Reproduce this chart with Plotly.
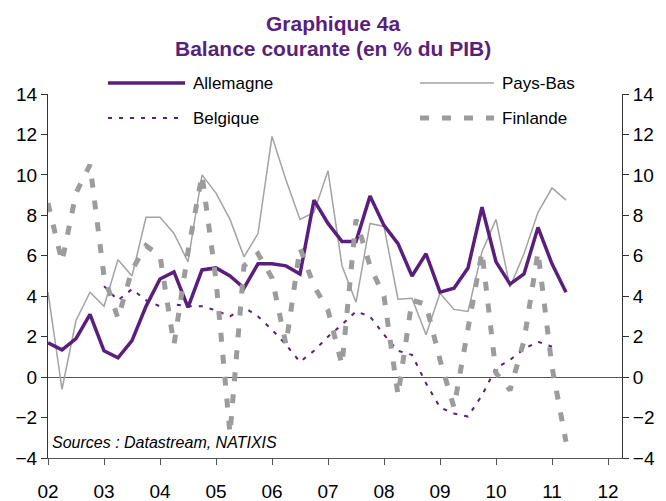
import plotly.graph_objects as go

# quarterly dates (2002Q1 = 2002.0)
quarters = [2002 + 0.25 * i for i in range(38)]
quarters_be = quarters[4:37]  # Belgique : 2003Q1 - 2011Q1

allemagne = [1.7, 1.35, 1.9, 3.1,
             1.3, 0.95, 1.8, 3.5,
             4.85, 5.2, 3.45, 5.3,
             5.4, 5.0, 4.4, 5.6,
             5.6, 5.5, 5.1, 8.75,
             7.6, 6.7, 6.7, 8.95,
             7.5, 6.6, 5.0, 6.1,
             4.2, 4.4, 5.4, 8.4,
             5.7, 4.6, 5.1, 7.4,
             5.6, 4.2]

pays_bas = [4.2, -0.6, 2.8, 4.2,
            3.5, 5.8, 5.0, 7.9,
            7.9, 7.1, 5.7, 10.0,
            9.1, 7.8, 5.95, 7.1,
            11.9, 9.75, 7.8, 8.15,
            10.2, 5.5, 3.7, 7.6,
            7.45, 3.85, 3.9, 2.1,
            4.15, 3.35, 3.25, 6.2,
            7.8, 4.45, 6.1, 8.15,
            9.35, 8.75]

belgique = [4.5, 3.8, 4.35, 3.8,
            3.5, 3.6, 3.5, 3.5,
            3.3, 3.0, 3.45, 3.0,
            2.35, 1.6, 0.75, 1.3,
            2.0, 2.6, 3.25, 3.0,
            2.1, 1.3, 1.1, -0.3,
            -1.5, -1.8, -1.95, -0.9,
            0.45, 0.85, 1.4, 1.75,
            1.5]

finlande = [8.6, 5.7, 9.1, 10.5,
            5.0, 2.9, 5.3, 6.5,
            6.0, 1.6, 6.2, 10.0,
            4.8, -2.8, 5.5, 6.1,
            4.9, 1.6, 6.4, 4.5,
            3.3, 0.6, 7.8, 5.5,
            4.0, -0.9, 3.8, 3.6,
            0.85, -1.5, 2.4, 6.2,
            0.2, -0.65, 1.8, 6.2,
            0.5, -3.2]

year_ticks = list(range(2002, 2013))
year_labels = [f"{y % 100:02d}" for y in year_ticks]
y_ticks = list(range(-4, 15, 2))

PURPLE = "#5a1f7d"
GRAY_PB = "#a3a3a3"
GRAY_FI = "#9c9c9c"
FONT = "Liberation Sans, Arial, sans-serif"

fig = go.Figure()
fig.add_trace(go.Scatter(x=quarters, y=pays_bas, mode="lines", name="Pays-Bas",
                         line=dict(color=GRAY_PB, width=1.5)))
fig.add_trace(go.Scatter(x=quarters, y=finlande, mode="lines", name="Finlande",
                         line=dict(color=GRAY_FI, width=5, dash="9px,13px"), yaxis="y2"))
fig.add_trace(go.Scatter(x=quarters_be, y=belgique, mode="lines", name="Belgique",
                         line=dict(color=PURPLE, width=2, dash="4px,7px")))
fig.add_trace(go.Scatter(x=quarters, y=allemagne, mode="lines", name="Allemagne",
                         line=dict(color=PURPLE, width=3.5)))

# page has an 8px body margin: the figure starts at (8, 8) in the window
OFF = 8
W, H = 658, 493
ML, MR, MT, MB = 40, 44, 86, 43
pw, ph = W - ML - MR, H - MT - MB


def px(x):  # screen x -> paper
    return (x - OFF - ML) / pw


def py(y):  # screen y -> paper
    return (H - MB - (y - OFF)) / ph


# hand-drawn legend (two columns, long samples as in the original)
legend_items = [
    ("Allemagne", 108, 185, 83, dict(color=PURPLE, width=3.5)),
    ("Pays-Bas", 420, 494, 83, dict(color=GRAY_PB, width=1.5)),
    ("Belgique", 108, 185, 118, dict(color=PURPLE, width=2, dash="4px,7px")),
    ("Finlande", 420, 494, 118, dict(color=GRAY_FI, width=5, dash="9px,13px")),
]

shapes = []
annotations = []
for name, x0, x1, y, ln in legend_items:
    shapes.append(dict(type="line", xref="paper", yref="paper",
                       x0=px(x0), x1=px(x1), y0=py(y), y1=py(y), line=ln))
    annotations.append(dict(text=name, xref="paper", yref="paper", x=px(x1 + 6), y=py(y),
                            xanchor="left", yanchor="middle", showarrow=False,
                            font=dict(size=17, color="black", family=FONT)))

annotations.append(dict(text="<i>Sources : Datastream, NATIXIS</i>", xref="paper", yref="paper",
                        x=px(50), y=py(442), xanchor="left", yanchor="middle", showarrow=False,
                        font=dict(size=16, color="black", family=FONT)))
for txt, yy in [("Graphique 4a", 23), ("Balance courante (en % du PIB)", 48)]:
    annotations.append(dict(text=f"<b>{txt}</b>", xref="paper", yref="paper",
                            x=px(333), y=py(yy), xanchor="center", yanchor="middle",
                            showarrow=False,
                            font=dict(size=21, color=PURPLE, family=FONT)))

axis_common = dict(range=[-4, 14], tickvals=y_ticks, ticks="outside", ticklen=6,
                   tickcolor="#333", showline=True, linecolor="#333", linewidth=1,
                   showgrid=False, automargin=False,
                   tickfont=dict(size=19, color="black", family=FONT))

fig.update_layout(
    width=W, height=H,
    margin=dict(l=ML, r=MR, t=MT, b=MB),
    paper_bgcolor="white", plot_bgcolor="white",
    showlegend=False,
    shapes=shapes,
    annotations=annotations,
    xaxis=dict(range=[2002, 2012.25], tickvals=year_ticks, ticktext=year_labels,
               ticks="outside", ticklen=6, tickcolor="#555", showline=True,
               linecolor="#555", linewidth=1, showgrid=False, zeroline=False,
               ticklabelstandoff=10, automargin=False,
               tickfont=dict(size=19, color="black", family=FONT)),
    yaxis=dict(side="left", zeroline=True, zerolinecolor="#555", zerolinewidth=1,
               **axis_common),
    yaxis2=dict(side="right", overlaying="y", zeroline=False, **axis_common),
)

fig.write_html("out.html")
